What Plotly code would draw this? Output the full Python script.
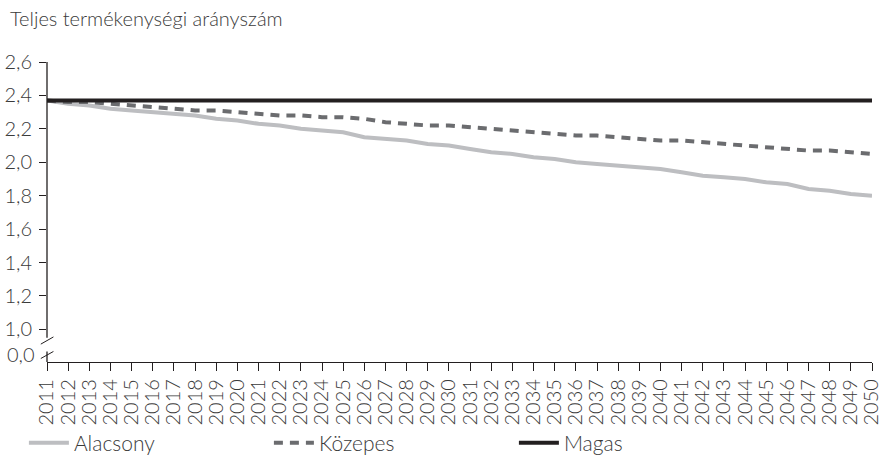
import plotly.graph_objects as go

years = [str(y) for y in range(2011, 2051)]

alacsony = [2.37, 2.35, 2.34, 2.32, 2.31, 2.30, 2.29, 2.28, 2.26, 2.25,
            2.23, 2.22, 2.20, 2.19, 2.18, 2.15, 2.14, 2.13, 2.11, 2.10,
            2.08, 2.06, 2.05, 2.03, 2.02, 2.00, 1.99, 1.98, 1.97, 1.96,
            1.94, 1.92, 1.91, 1.90, 1.88, 1.87, 1.84, 1.83, 1.81, 1.80]

kozepes = [2.37, 2.36, 2.36, 2.35, 2.34, 2.33, 2.32, 2.31, 2.31, 2.30,
           2.29, 2.28, 2.28, 2.27, 2.27, 2.26, 2.24, 2.23, 2.22, 2.22,
           2.21, 2.20, 2.19, 2.18, 2.17, 2.16, 2.16, 2.15, 2.14, 2.13,
           2.13, 2.12, 2.11, 2.10, 2.09, 2.08, 2.07, 2.07, 2.06, 2.05]

magas = [2.37] * 40

y_tickvals = [1.0, 1.2, 1.4, 1.6, 1.8, 2.0, 2.2, 2.4, 2.6]
y_ticktext = ["1,0", "1,2", "1,4", "1,6", "1,8", "2,0", "2,2", "2,4", "2,6"]
zero_label = "0,0"

title_text = "Teljes termékenységi arányszám"

FONT = "Lato"
TXT = "#3a3a3a"
FS = 20
Y_MIN = 0.805
Y_MAX = 2.6
ZERO_POS = 0.852  # position of the broken-axis "0,0" label

fig = go.Figure()
fig.add_trace(go.Scatter(x=years, y=alacsony, name="Alacsony", mode="lines",
                         line=dict(color="#bdbec1", width=4)))
fig.add_trace(go.Scatter(x=years, y=kozepes, name="Közepes", mode="lines",
                         line=dict(color="#6b6c6f", width=4, dash="9px,7px")))
fig.add_trace(go.Scatter(x=years, y=magas, name="Magas", mode="lines",
                         line=dict(color="#231f20", width=4)))

fig.update_layout(
    width=885, height=470,
    margin=dict(l=47, r=13, t=62, b=108, autoexpand=False),
    plot_bgcolor="white", paper_bgcolor="white",
    font=dict(family=FONT, size=FS, color=TXT, weight=300),
    title=dict(text=title_text, x=10 / 885, xref="container", xanchor="left",
               y=1 - 19 / 470, yref="container", yanchor="middle",
               font=dict(family=FONT, size=FS, color=TXT, weight=300)),
    showlegend=True,
    legend=dict(orientation="h", x=-0.028, xanchor="left", y=-0.27, yanchor="middle",
                entrywidth=190, entrywidthmode="pixels", itemwidth=40,
                font=dict(family=FONT, size=21, color=TXT, weight=300),
                bgcolor="rgba(0,0,0,0)"),
    xaxis=dict(type="category", range=[0, 39], showgrid=False, zeroline=False,
               showline=True, linecolor="#231f20", linewidth=1.3,
               tickmode="array", tickvals=years, ticktext=years,
               ticks="outside", ticklen=8, tickcolor="#231f20", tickwidth=1,
               tickangle=-90, tickfont=dict(family=FONT, size=FS, color=TXT, weight=300)),
    yaxis=dict(range=[Y_MIN, Y_MAX], showgrid=False, zeroline=False, showline=False,
               tickmode="array", tickvals=y_tickvals, ticktext=y_ticktext,
               ticks="outside", ticklen=7, tickcolor="#231f20", tickwidth=1,
               ticklabelstandoff=3,
               tickfont=dict(family=FONT, size=FS, color=TXT, weight=300)),
)

# broken y-axis line and break marks
ax_col = "#231f20"
fig.add_shape(type="line", xref="paper", yref="y", x0=0, x1=0, y0=0.95, y1=Y_MAX,
              line=dict(color=ax_col, width=1.3))
fig.add_shape(type="line", xref="paper", yref="y", x0=0, x1=0, y0=Y_MIN, y1=0.868,
              line=dict(color=ax_col, width=1.3))
fig.add_shape(type="line", xref="paper", yref="y", x0=-0.0075, x1=0.0078, y0=0.912, y1=0.955,
              line=dict(color=ax_col, width=1))
fig.add_shape(type="line", xref="paper", yref="y", x0=-0.0075, x1=0.0078, y0=0.826, y1=0.868,
              line=dict(color=ax_col, width=1))

fig.add_annotation(text=zero_label, xref="paper", yref="y", x=-0.0122, y=ZERO_POS,
                   xanchor="right", yanchor="middle", showarrow=False,
                   font=dict(family=FONT, size=FS, color=TXT, weight=300))

fig.write_html("out.html", config={"displayModeBar": False},
               post_script="document.body.style.margin='0';document.body.style.padding='0';")
